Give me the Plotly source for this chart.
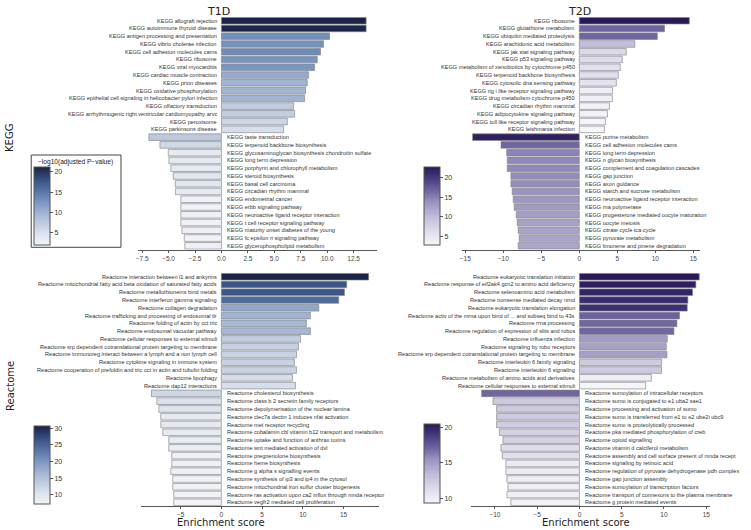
import plotly.graph_objects as go
from plotly.subplots import make_subplots

# ---- KEGG, T1D ----
kegg_t1d_names = [
    "KEGG allograft rejection", "KEGG autoimmune thyroid disease",
    "KEGG antigen processing and presentation", "KEGG vibrio cholerae infection",
    "KEGG cell adhesion molecules cams", "KEGG ribosome", "KEGG viral myocarditis",
    "KEGG cardiac muscle contraction", "KEGG prion diseases", "KEGG oxidative phosphorylation",
    "KEGG epithelial cell signaling in helicobacter pylori infection",
    "KEGG olfactory transduction", "KEGG arrhythmogenic right ventricular cardiomyopathy arvc",
    "KEGG peroxisome", "KEGG parkinsons disease",
    "KEGG taste transduction", "KEGG terpenoid backbone biosynthesis",
    "KEGG glycosaminoglycan biosynthesis chondroitin sulfate", "KEGG long term depression",
    "KEGG porphyrin and chlorophyll metabolism", "KEGG steroid biosynthesis",
    "KEGG basal cell carcinoma", "KEGG circadian rhythm mammal", "KEGG endometrial cancer",
    "KEGG erbb signaling pathway", "KEGG neuroactive ligand receptor interaction",
    "KEGG t cell receptor signaling pathway", "KEGG maturity onset diabetes of the young",
    "KEGG fc epsilon ri signaling pathway", "KEGG glycerophospholipid metabolism",
]
kegg_t1d_score = [13.68, 13.68, 10.22, 9.65, 9.37, 9.06, 8.80, 8.24, 8.11, 7.95, 7.86, 6.82, 6.92, 6.23, 5.88,
                  -6.86, -5.82, -5.03, -4.97, -4.78, -4.56, -4.37, -4.34, -3.84, -3.84, -3.84, -3.84, -3.74, -3.52, -3.46]
kegg_t1d_logp = [21.2, 21.0, 13.1, 12.9, 13.5, 12.7, 12.5, 10.6, 9.8, 9.8, 9.8, 7.1, 6.9, 6.1, 5.2,
                 7.5, 5.8, 3.4, 3.6, 3.4, 4.0, 4.0, 3.6, 2.0, 2.1, 2.4, 2.2, 2.4, 1.9, 2.4]

# ---- KEGG, T2D ----
kegg_t2d_names = [
    "KEGG ribosome", "KEGG glutathione metabolism", "KEGG ubiquitin mediated proteolysis",
    "KEGG arachidonic acid metabolism", "KEGG jak stat signaling pathway", "KEGG p53 signaling pathway",
    "KEGG metabolism of xenobiotics by cytochrome p450", "KEGG terpenoid backbone biosynthesis",
    "KEGG cytosolic dna sensing pathway", "KEGG rig i like receptor signaling pathway",
    "KEGG drug metabolism cytochrome p450", "KEGG circadian rhythm mammal",
    "KEGG adipocytokine signaling pathway", "KEGG toll like receptor signaling pathway",
    "KEGG leishmania infection",
    "KEGG purine metabolism", "KEGG cell adhesion molecules cams", "KEGG long term depression",
    "KEGG n glycan biosynthesis", "KEGG complement and coagulation cascades", "KEGG gap junction",
    "KEGG axon guidance", "KEGG starch and sucrose metabolism",
    "KEGG neuroactive ligand receptor interaction", "KEGG rna polymerase",
    "KEGG progesterone mediated oocyte maturation", "KEGG oocyte meiosis",
    "KEGG citrate cycle tca cycle", "KEGG pyruvate metabolism", "KEGG limonene and pinene degradation",
]
kegg_t2d_score = [14.47, 11.21, 10.26, 7.30, 6.17, 5.65, 5.39, 5.13, 4.87, 4.35, 4.35, 3.96, 3.70, 3.43, 3.30,
                  -14.04, -10.30, -9.56, -9.48, -9.48, -9.00, -9.00, -8.83, -8.70, -8.57, -8.30, -8.17, -8.04, -7.91, -8.04]
kegg_t2d_logp = [22.6, 16.7, 16.6, 9.8, 6.6, 6.4, 5.9, 5.9, 5.6, 3.7, 3.7, 3.5, 3.3, 3.0, 2.9,
                 22.0, 16.6, 14.7, 14.4, 14.4, 14.1, 14.1, 13.7, 13.4, 13.1, 12.8, 12.5, 12.3, 12.1, 12.1]

# ---- Reactome, T1D ----
react_t1d_names = [
    "Reactome interaction between l1 and ankyrins",
    "Reactome mitochondrial fatty acid beta oxidation of saturated fatty acids",
    "Reactome metallothioneins bind metals", "Reactome interferon gamma signaling",
    "Reactome collagen degradation", "Reactome trafficking and processing of endosomal tlr",
    "Reactome folding of actin by cct tric", "Reactome endosomal vacuolar pathway",
    "Reactome cellular responses to external stimuli",
    "Reactome srp dependent cotranslational protein targeting to membrane",
    "Reactome immunoreg interact between a lymph and a non lymph cell",
    "Reactome cytokine signaling in immune system",
    "Reactome cooperation of prefoldin and tric cct in actin and tubulin folding",
    "Reactome lipophagy", "Reactome dap12 interactions",
    "Reactome cholesterol biosynthesis", "Reactome class b 2 secretin family receptors",
    "Reactome depolymerisation of the nuclear lamina", "Reactome clec7a dectin 1 induces nfat activation",
    "Reactome met receptor recycling", "Reactome cobalamin cbl vitamin b12 transport and metabolism",
    "Reactome uptake and function of anthrax toxins", "Reactome wnt mediated activation of dvl",
    "Reactome pregnenolone biosynthesis", "Reactome heme biosynthesis",
    "Reactome g alpha s signalling events", "Reactome synthesis of ip3 and ip4 in the cytosol",
    "Reactome mitochondrial iron sulfur cluster biogenesis",
    "Reactome ras activation upon ca2 influx through nmda receptor",
    "Reactome vegfr2 mediated cell proliferation",
]
react_t1d_score = [18.07, 15.38, 15.10, 14.40, 11.96, 10.93, 10.44, 10.93, 9.71, 9.46, 9.22, 8.97, 9.22, 8.73, 9.09,
                   -8.57, -7.92, -7.67, -7.43, -7.43, -7.18, -6.45, -6.45, -6.08, -6.08, -6.20, -5.96, -5.96, -5.84, -5.84]
react_t1d_logp = [30.8, 26.6, 26.4, 24.5, 18.3, 16.9, 16.2, 16.5, 13.6, 13.3, 13.0, 13.0, 12.9, 11.3, 11.3,
                  12.2, 10.8, 10.4, 9.4, 9.4, 9.0, 8.7, 8.6, 7.8, 7.9, 7.9, 7.6, 7.5, 7.6, 7.3]

# ---- Reactome, T2D ----
react_t2d_names = [
    "Reactome eukaryotic translation initiation",
    "Reactome response of eif2ak4 gcn2 to amino acid deficiency",
    "Reactome selenoamino acid metabolism", "Reactome nonsense mediated decay nmd",
    "Reactome eukaryotic translation elongation",
    "Reactome activ of the mrna upon bind of ... and subseq bind to 43s",
    "Reactome rrna processing", "Reactome regulation of expression of slits and robos",
    "Reactome influenza infection", "Reactome signaling by robo receptors",
    "Reactome srp dependent cotranslational protein targeting to membrane",
    "Reactome interleukin 6 family signaling", "Reactome interleukin 6 signaling",
    "Reactome metabolism of amino acids and derivatives",
    "Reactome cellular responses to external stimuli",
    "Reactome sumoylation of intracellular receptors", "Reactome sumo is conjugated to e1 uba2 sae1",
    "Reactome processing and activation of sumo", "Reactome sumo is transferred from e1 to e2 ube2i ubc9",
    "Reactome sumo is proteolytically processed", "Reactome pka mediated phosphorylation of creb",
    "Reactome opioid signalling", "Reactome vitamin d calciferol metabolism",
    "Reactome assembly and cell surface present of nmda recept", "Reactome signaling by retinoic acid",
    "Reactome regulation of pyruvate dehydrogenase pdh complex", "Reactome gap junction assembly",
    "Reactome sumoylation of transcription factors",
    "Reactome transport of connexons to the plasma membrane", "Reactome g protein mediated events",
]
react_t2d_score = [14.17, 13.77, 13.38, 12.83, 12.75, 11.84, 11.53, 11.18, 10.39, 10.27, 10.35, 9.72, 9.72, 8.50, 7.83,
                   -11.57, -10.23, -9.80, -9.80, -9.80, -9.48, -9.05, -9.29, -9.13, -8.70, -8.70, -8.58, -8.46, -8.58, -8.11]
react_t2d_logp = [20.4, 20.1, 19.9, 19.5, 19.4, 17.2, 17.0, 17.0, 14.9, 14.7, 14.8, 12.4, 12.4, 9.9, 9.3,
                  17.0, 12.5, 12.5, 12.5, 12.4, 12.0, 11.9, 11.2, 11.0, 10.1, 10.1, 10.0, 9.9, 9.7, 9.5]

# colour maps
blues = [[0, "#f1f3f8"], [0.15, "#dbe2ee"], [0.4, "#a3b5d3"], [0.6, "#6d8bb9"], [0.8, "#3f5a8e"], [1, "#1b2346"]]
purples = [[0, "#f6f5fa"], [0.15, "#e2e0ee"], [0.35, "#c3bfdb"], [0.55, "#9a93c0"], [0.7, "#6f64a0"],
           [0.85, "#4a3c82"], [1, "#2a1858"]]

W, H = 751, 530
def px(x): return x / W
def py(y): return 1 - y / H

FONT = "Liberation Sans, Arial, sans-serif"
TFONT = "DejaVu Sans, sans-serif"

fig = make_subplots(rows=2, cols=2)

# names, scores, logp, row, col, cmap, x-domain px, y-domain px, colorbar (x, top, len), tick step, tick format
panels = [
    (kegg_t1d_names, kegg_t1d_score, kegg_t1d_logp, 1, 1, blues, (136.4, 376), (16.8, 249.7), (32.3, 167, 78), 2.5, ".1f"),
    (kegg_t2d_names, kegg_t2d_score, kegg_t2d_logp, 1, 2, purples, (461, 700), (16.8, 249.7), (422.7, 167, 78), 5, "d"),
    (react_t1d_names, react_t1d_score, react_t1d_logp, 2, 1, blues, (139, 378.5), (272.8, 506.2), (32.3, 425.7, 77.6), 5, "d"),
    (react_t2d_names, react_t2d_score, react_t2d_logp, 2, 2, purples, (470, 710), (272.8, 506.2), (422.7, 424.3, 79), 5, "d"),
]

annotations = []
for k, (names, score, logp, r, c, cmap, xd, yd, cb, dt, tf) in enumerate(panels):
    ypos = list(range(len(names)))
    fig.add_trace(go.Bar(
        x=score, y=ypos, orientation='h', width=0.85,
        marker=dict(color=logp, colorscale=cmap, line=dict(color="rgba(130,130,130,0.8)", width=0.8),
                    showscale=True,
                    colorbar=dict(x=px(cb[0]), xanchor='left', y=py(cb[1]), yanchor='top',
                                  len=cb[2], lenmode='pixels', thickness=16, thicknessmode='pixels',
                                  xpad=0, ypad=0, outlinecolor="#555", outlinewidth=1,
                                  ticks='outside', ticklen=3, tickcolor="#555", tick0=0, dtick=5,
                                  tickfont=dict(size=7, color="#333", family=FONT))),
        showlegend=False, hoverinfo='x+y'), row=r, col=c)

    lo, hi = min(score), max(score)
    pad = 0.05 * (hi - lo)
    xname = 'xaxis' if k == 0 else f'xaxis{k+1}'
    yname = 'yaxis' if k == 0 else f'yaxis{k+1}'
    fig.layout[xname].update(domain=[px(xd[0]), px(xd[1])], range=[lo - pad, hi + pad],
                             showline=True, linecolor="#555", linewidth=1, ticks='outside', ticklen=2,
                             tickcolor="#555", dtick=dt, tick0=0, tickformat=tf, showgrid=False, zeroline=False,
                             tickfont=dict(size=6.5, color="#444", family=FONT))
    fig.layout[yname].update(domain=[py(yd[1]), py(yd[0])], range=[len(names) - 0.5, -0.5], visible=False)

    xr = 'x' if k == 0 else f'x{k+1}'
    yr = 'y' if k == 0 else f'y{k+1}'
    for i, (n, s) in enumerate(zip(names, score)):
        annotations.append(dict(x=0, y=i, xref=xr, yref=yr, text=n, showarrow=False,
                                xanchor='right' if s > 0 else 'left', yanchor='middle',
                                xshift=-2 if s > 0 else 3.5,
                                font=dict(size=5.6, color="#333", family=FONT)))

# titles
def label(x, y, text, size, family=TFONT, angle=0):
    return dict(x=px(x), y=py(y), xref='paper', yref='paper', text=text, showarrow=False,
                xanchor='center', yanchor='middle', textangle=angle,
                font=dict(size=size, color="#222", family=family))

annotations += [
    label(217, 12, "T1D", 11),
    label(579, 12, "T2D", 11),
    label(8, 138, "KEGG", 10, angle=-90),
    label(8, 386, "Reactome", 10, angle=-90),
    label(220, 522, "Enrichment score", 10),
    label(586, 522, "Enrichment score", 10),
    label(74, 161.5, "\u2212log10(adjusted P\u2212value)", 6.6, family=FONT),
]

fig.update_layout(
    width=W, height=H, margin=dict(l=0, r=0, t=0, b=0),
    paper_bgcolor="white", plot_bgcolor="white",
    annotations=annotations,
    shapes=[dict(type='rect', xref='paper', yref='paper', x0=px(29.3), x1=px(119.3), y0=py(247.3), y1=py(155),
                 line=dict(color="#444", width=1))],
)

# drop the default page margin so the figure sits at the window's corner
fig.write_html("out.html", config={'displayModeBar': False},
               post_script="document.body.style.margin='0px';")
